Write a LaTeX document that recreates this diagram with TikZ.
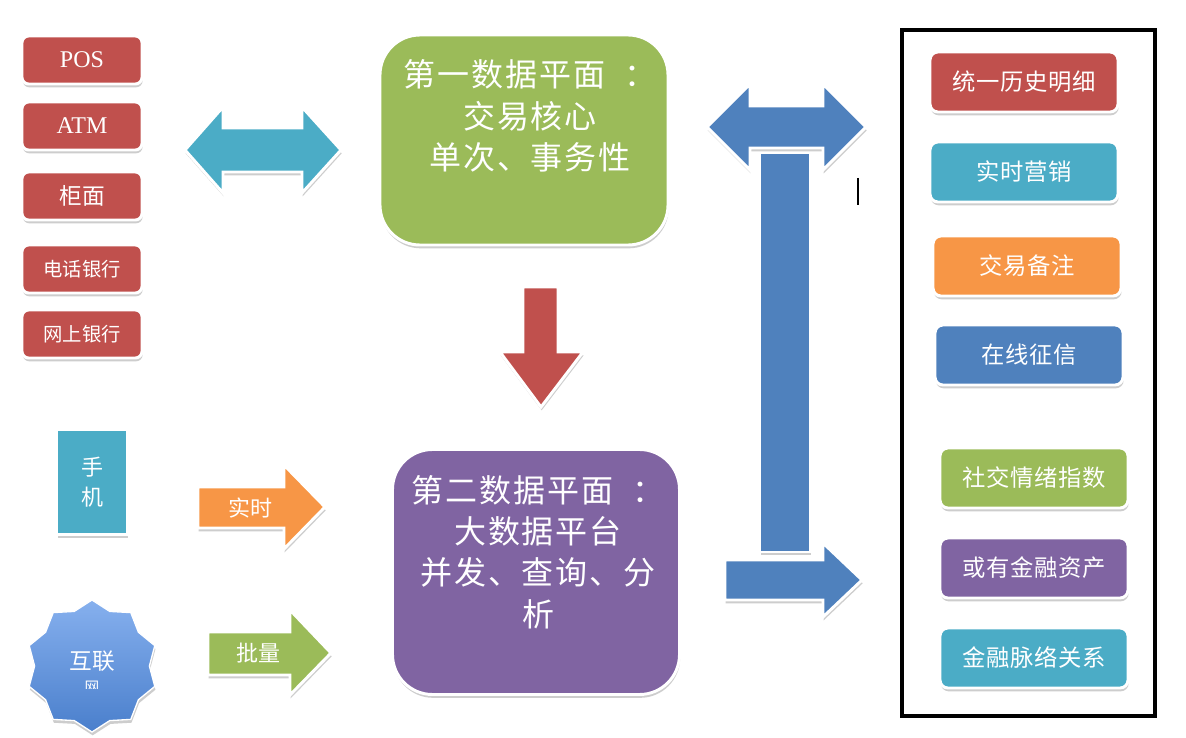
\documentclass[tikz,border=0pt]{standalone}
\usepackage{fontspec}
\setmainfont{Liberation Serif}
\newfontfamily\cjk{Noto Sans CJK SC}
\usetikzlibrary{shadows,shapes.geometric}
\definecolor{cred}{HTML}{C0504D}
\definecolor{ccyan}{HTML}{4BACC6}
\definecolor{cgreen}{HTML}{9BBB59}
\definecolor{cpurple}{HTML}{8064A2}
\definecolor{cblue}{HTML}{4F81BD}
\definecolor{corange}{HTML}{F79646}
\definecolor{startop}{HTML}{86B0EE}
\definecolor{starbot}{HTML}{4A7FCC}
\newcommand\fsz[2]{\fontsize{#1}{#2}\selectfont}
\tikzset{
  sh/.style={drop shadow={opacity=0.28,shadow xshift=0.5pt,shadow yshift=-2.5pt,fill=black!70}},
  tile/.style={sh, draw=white, line width=2.2pt, rounded corners=5pt, text=white, inner sep=0pt},
  ltile/.style={tile, fill=cred, minimum width=90pt, minimum height=36pt},
  rtile/.style={tile, rounded corners=6pt, minimum width=141pt, minimum height=45pt, font={\cjk\addfontfeature{LetterSpace=3}\fsz{17.5pt}{20pt}}},
  bigbox/.style={tile, rounded corners=30pt},
  bigtext/.style={text=white, align=center, inner sep=0pt, font={\cjk\addfontfeature{LetterSpace=6}\fsz{24pt}{31pt}}},
  blockarrow/.style={sh, draw=white, line width=2.2pt, line join=miter},
  arrowtext/.style={text=white, inner sep=0pt, font={\cjk\fsz{16.5pt}{20pt}}}
}
\begin{document}
\begin{tikzpicture}[x=0.75pt,y=-0.75pt]
\path[use as bounding box, fill=white] (0,0) rectangle (1186,738);

% left channel tiles
\node[ltile, font=\fsz{18pt}{20pt}] (pos) at (82,60) {POS};
\node[ltile, font=\fsz{18pt}{20pt}] (atm) at (82,126) {ATM};
\node[ltile, font={\cjk\fsz{17pt}{20pt}}] (gm) at (82,196) {柜面};
\node[ltile, font={\cjk\fsz{14.5pt}{18pt}}] (dh) at (82,269) {电话银行};
\node[ltile, font={\cjk\fsz{14.5pt}{18pt}}] (ws) at (82,334) {网上银行};

% phone
\node[tile, rounded corners=0pt, fill=ccyan, minimum width=52.5pt, minimum height=78.75pt,
      align=center, font={\cjk\fsz{16.5pt}{22.5pt}}] (phone) at (92,482) {手\\机};

% internet star
\node[star, star points=10, star point ratio=1.15, minimum size=99pt, inner sep=0pt,
      draw=white, line width=1pt, top color=startop, bottom color=starbot, sh] (net) at (92,666) {};
\node[text=white, inner sep=0pt, font={\cjk\fsz{17pt}{20pt}}] (neta) at (92,661) {互联};
\begin{scope}
  \clip (70,677) rectangle (114,688);
  \node[text=white, inner sep=0pt, font={\cjk\fsz{11pt}{12pt}}] (netb) at (92,687) {网};
\end{scope}

% cyan double arrow
\filldraw[blockarrow, fill=ccyan] (185,150) -- (223,107) -- (223,128) -- (302,128) -- (302,107)
  -- (341,150) -- (302,193) -- (302,172) -- (223,172) -- (223,193) -- cycle;

% first data plane
\node[bigbox, fill=cgreen, minimum width=216pt, minimum height=157.5pt] (p1) at (524,140) {};
\node[bigtext] (p1t) at (530,116) {第一数据平面\hspace{0.6em}：\\交易核心\\单次、事务性};

% red down arrow
\filldraw[blockarrow, fill=cred] (523,287) -- (558,287) -- (558,352) -- (583,352) -- (541,407)
  -- (500,352) -- (523,352) -- cycle;

% second data plane
\node[bigbox, fill=cpurple, minimum width=215.25pt, minimum height=183.75pt] (p2) at (536,572) {};
\node[bigtext] (p2t) at (538,552) {第二数据平面\hspace{0.6em}：\\大数据平台\\并发、查询、分\\析};

% orange real-time arrow
\filldraw[blockarrow, fill=corange] (198,487) -- (284,487) -- (284,465) -- (325,507) -- (284,549)
  -- (284,528) -- (198,528) -- cycle;
\node[arrowtext] (rt) at (250,508) {实时};

% green batch arrow
\filldraw[blockarrow, fill=cgreen] (208,632) -- (290,632) -- (290,610) -- (331,653) -- (290,695)
  -- (290,675) -- (208,675) -- cycle;
\node[arrowtext] (pl) at (258,653) {批量};

% blue L-shaped arrow
\filldraw[blockarrow, fill=cblue] (707,127) -- (750,84) -- (750,106) -- (823,106) -- (823,84)
  -- (866,127) -- (823,170) -- (823,148) -- (750,148) -- (750,170) -- cycle;
\filldraw[blockarrow, fill=cblue] (760,153) rectangle (810,552);
\filldraw[blockarrow, fill=cblue] (725,560) -- (823,560) -- (823,543) -- (862,580) -- (823,617)
  -- (823,600) -- (725,600) -- cycle;

% cursor mark
\coordinate (c1) at (858,178);
\coordinate (c2) at (858,205);
\draw[line width=1.1pt] (c1) -- (c2);

% right frame
\node[draw=black, line width=2.4pt, minimum width=189.75pt, minimum height=514.5pt, inner sep=0pt] (frame) at (1028.5,373) {};

% right application tiles
\node[rtile, fill=cred] (r1) at (1024,82) {统一历史明细};
\node[rtile, fill=ccyan] (r2) at (1024,172) {实时营销};
\node[rtile, fill=corange] (r3) at (1027,266) {交易备注};
\node[rtile, fill=cblue] (r4) at (1029,355) {在线征信};
\node[rtile, fill=cgreen] (r5) at (1034,478) {社交情绪指数};
\node[rtile, fill=cpurple] (r6) at (1034,568) {或有金融资产};
\node[rtile, fill=ccyan] (r7) at (1034,658) {金融脉络关系};
\end{tikzpicture}
\end{document}
